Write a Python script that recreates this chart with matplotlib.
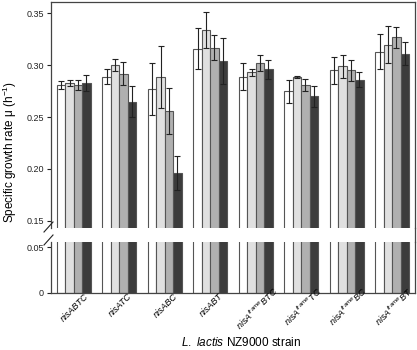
import matplotlib
matplotlib.use("Agg")
import matplotlib.pyplot as plt
import matplotlib.transforms as mtransforms
from matplotlib.lines import Line2D
import numpy as np

plt.rcParams['font.family'] = ['Liberation Sans', 'DejaVu Sans']
plt.rcParams['mathtext.fontset'] = 'custom'
plt.rcParams['mathtext.rm'] = 'Liberation Sans'
plt.rcParams['mathtext.it'] = 'Liberation Sans:italic'

# Data
strains = ["nisABTC", "nisATC", "nisABC", "nisABT",
           r"$\mathit{nisA}^{\mathit{frame}}\mathit{BTC}$",
           r"$\mathit{nisA}^{\mathit{frame}}\mathit{TC}$",
           r"$\mathit{nisA}^{\mathit{frame}}\mathit{BC}$",
           r"$\mathit{nisA}^{\mathit{frame}}\mathit{BT}$"]
s1 = [0.281, 0.289, 0.277, 0.316, 0.289, 0.275, 0.295, 0.313]
s2 = [0.283, 0.300, 0.289, 0.334, 0.293, 0.289, 0.299, 0.320]
s3 = [0.281, 0.292, 0.256, 0.317, 0.302, 0.281, 0.295, 0.327]
s4 = [0.283, 0.265, 0.196, 0.304, 0.296, 0.270, 0.286, 0.311]
e1 = [0.004, 0.007, 0.025, 0.020, 0.013, 0.011, 0.013, 0.017]
e2 = [0.003, 0.006, 0.030, 0.017, 0.003, 0.001, 0.011, 0.018]
e3 = [0.005, 0.011, 0.022, 0.012, 0.008, 0.006, 0.010, 0.010]
e4 = [0.008, 0.015, 0.016, 0.022, 0.009, 0.010, 0.007, 0.011]
colors = ["white", "#e0e0e0", "#b0b0b0", "#3c3c3c"]

W, H = 417, 350
fig = plt.figure(figsize=(W / 100, H / 100), dpi=100)
L, R = 51 / W, 415 / W
ax1 = fig.add_axes([L, 1 - 228 / H, R - L, (228 - 2) / H])
ax2 = fig.add_axes([L, 1 - 292.7 / H, R - L, (292.7 - 242) / H])

x = np.arange(len(strains))
bw = 0.185
for ax in (ax1, ax2):
    for k, (vals, errs) in enumerate(zip([s1, s2, s3, s4], [e1, e2, e3, e4])):
        ax.bar(x + (k - 1.5) * bw, vals, bw, color=colors[k], edgecolor="#555555", linewidth=0.8)
        if ax is ax1:
            ax.errorbar(x + (k - 1.5) * bw, vals, yerr=errs, fmt="none", ecolor="#222222",
                        elinewidth=0.8, capsize=2, capthick=0.8)
    ax.set_xlim(-0.5, len(strains) - 0.5)
    for sp in ax.spines.values():
        sp.set_color("#444444")
        sp.set_linewidth(0.9)
    ax.tick_params(axis="y", length=3, width=0.8, labelsize=6.5, pad=2, colors="#222222")

ax1.set_ylim(0.143, 0.361)
ax1.set_yticks([0.15, 0.20, 0.25, 0.30, 0.35])
ax1.set_yticklabels(["0.15", "0.20", "0.25", "0.30", "0.35"])
ax1.spines['bottom'].set_visible(False)
ax1.tick_params(axis="x", bottom=False, labelbottom=False)

ax2.set_ylim(0, 0.0558)
ax2.set_yticks([0, 0.05])
ax2.set_yticklabels(["0", "0.05"])
ax2.spines['top'].set_visible(False)
ax2.set_xticks(x)
ax2.tick_params(axis="x", length=0, labelbottom=False)

# strain labels, rotated 45 deg, centred on the group, just under the axis
trans = mtransforms.blended_transform_factory(ax2.transData, fig.transFigure)
for xi, lab in zip(x, strains):
    top = 285 if lab.startswith("$") else 292
    ax2.text(xi + 0.03, 1 - top / H, lab, transform=trans, rotation=45, ha="center", va="top",
             fontsize=6.5, style="italic", clip_on=False)

# right spine continues through the break
fig.add_artist(Line2D([R, R], [1 - 242 / H, 1 - 228 / H], color="#444444", lw=0.9,
                      transform=fig.transFigure))
# break marks
for y0 in (228, 241):
    fig.add_artist(Line2D([(L * W + 2) / W, (L * W - 7) / W], [1 - (y0 - 6) / H, 1 - (y0 + 4) / H],
                          color="#222222", lw=0.8, transform=fig.transFigure))

fig.text(10 / W, 1 - 152 / H, r"Specific growth rate μ (h$^{-1}$)", rotation=90,
         ha="center", va="center", fontsize=8.5)
fig.text(241 / W, 1 - 342 / H, r"$\mathit{L.\ lactis}$ NZ9000 strain", ha="center", va="center", fontsize=8.5)

fig.savefig("out.png", dpi=100)
